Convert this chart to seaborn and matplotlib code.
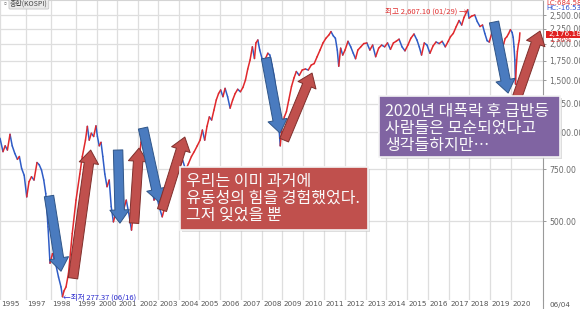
import numpy as np
import pandas as pd
import matplotlib
matplotlib.use("Agg")
import matplotlib.pyplot as plt
import seaborn as sns
from matplotlib.patches import Rectangle
from matplotlib.lines import Line2D
from matplotlib import transforms

# ---------------- data ----------------
years = [1995.00, 1995.23, 1995.40, 1995.57, 1995.77, 1995.94, 1996.14, 1996.34, 1996.49, 1996.66,
         1996.86, 1997.03, 1997.12, 1997.22, 1997.32, 1997.44, 1997.53, 1997.62, 1997.71, 1997.79,
         1997.88, 1997.96, 1998.06, 1998.18, 1998.30, 1998.40, 1998.46, 1998.52, 1998.60, 1998.70,
         1998.85, 1999.00, 1999.18, 1999.30, 1999.45, 1999.54, 1999.63, 1999.73, 1999.84, 1999.95,
         2000.02, 2000.11, 2000.20, 2000.29, 2000.39, 2000.50, 2000.61, 2000.71, 2000.82, 2000.93,
         2001.04, 2001.19, 2001.31, 2001.44, 2001.56, 2001.69, 2001.81, 2001.93, 2002.05, 2002.15,
         2002.24, 2002.37, 2002.47, 2002.58, 2002.69, 2002.80, 2002.91, 2003.05, 2003.20, 2003.33,
         2003.46, 2003.60, 2003.75, 2003.89, 2004.04, 2004.18, 2004.33, 2004.47, 2004.62, 2004.76,
         2004.91, 2005.05, 2005.16, 2005.27, 2005.38, 2005.49, 2005.60, 2005.71, 2005.82, 2005.93,
         2006.03, 2006.14, 2006.24, 2006.36, 2006.48, 2006.60, 2006.72, 2006.84, 2006.97, 2007.09,
         2007.21, 2007.32, 2007.43, 2007.54, 2007.64, 2007.71, 2007.80, 2007.89, 2008.00, 2008.14,
         2008.29, 2008.39, 2008.50, 2008.61, 2008.71, 2008.82, 2008.91, 2009.00, 2009.11, 2009.21,
         2009.32, 2009.45, 2009.57, 2009.68, 2009.82, 2009.96, 2010.11, 2010.25, 2010.39, 2010.53,
         2010.67, 2010.81, 2010.95, 2011.09, 2011.23, 2011.33, 2011.44, 2011.54, 2011.63, 2011.70,
         2011.79, 2011.89, 2012.00, 2012.14, 2012.27, 2012.39, 2012.50, 2012.61, 2012.75, 2012.89,
         2013.04, 2013.19, 2013.33, 2013.48, 2013.63, 2013.78, 2013.93, 2014.07, 2014.21, 2014.35,
         2014.48, 2014.62, 2014.76, 2014.90, 2015.04, 2015.18, 2015.33, 2015.47, 2015.58, 2015.69,
         2015.82, 2015.95, 2016.09, 2016.24, 2016.38, 2016.53, 2016.67, 2016.82, 2016.96, 2017.07,
         2017.21, 2017.36, 2017.50, 2017.63, 2017.75, 2017.93, 2018.00, 2018.13, 2018.27, 2018.39,
         2018.52, 2018.64, 2018.75, 2018.86, 2018.96, 2019.10, 2019.22, 2019.32, 2019.42, 2019.52,
         2019.58, 2019.65, 2019.72, 2019.80, 2019.88, 2019.97, 2020.05, 2020.10, 2020.14, 2020.18,
         2020.21, 2020.25, 2020.30, 2020.35, 2020.39, 2020.42]
values = [955, 860, 900, 871, 985, 900, 848, 810, 828, 755,
          715, 604, 680, 707, 689, 790, 776, 745, 689, 620,
          478, 360, 388, 360, 323, 299, 277, 290, 299, 333,
          454, 589, 722, 828, 941, 1048, 941, 993, 968, 1052,
          968, 900, 925, 828, 722, 654, 689, 560, 497, 531,
          560, 517, 545, 589, 531, 466, 560, 654, 805, 925,
          993, 925, 828, 722, 654, 589, 620, 560, 517, 560,
          604, 654, 689, 722, 764, 805, 745, 783, 828, 860,
          900, 941, 1018, 941, 1048, 1128, 1101, 1190, 1287, 1354,
          1392, 1321, 1410, 1321, 1208, 1287, 1354, 1400, 1373, 1420,
          1504, 1640, 1759, 1950, 1780, 2010, 2057, 1902, 1780, 1759,
          1855, 1829, 1691, 1547, 1354, 1101, 900, 1048, 1128, 1176,
          1287, 1430, 1530, 1608, 1560, 1627, 1640, 1627, 1691, 1711,
          1805, 1902, 2010, 2085, 2139, 2196, 2125, 2085, 1902, 1676,
          1930, 1829, 1902, 2036, 1950, 1855, 1777, 1902, 1950, 2000,
          2010, 1902, 1977, 1805, 1930, 1977, 1950, 2010, 1912, 2010,
          2036, 2070, 1950, 1890, 1977, 2085, 2155, 2057, 1950, 1829,
          2010, 1977, 1855, 1965, 2025, 2000, 2036, 1950, 2036, 2110,
          2165, 2285, 2395, 2312, 2455, 2607, 2440, 2480, 2500, 2375,
          2285, 2312, 2165, 2045, 2025, 2190, 2240, 2150, 2080, 2030,
          1930, 2000, 2080, 2110, 2160, 2230, 2180, 2100, 1950, 1760,
          1457, 1680, 1880, 1990, 2050, 2176]

x_tick_years = [1995] + list(range(1997, 2021))
x_tick_labels = [str(y) for y in x_tick_years]
y_ticks = [500, 750, 1000, 1250, 1500, 1750, 2000, 2250, 2500]
y_tick_labels = [f"{v:,.2f}" for v in y_ticks]

peak_point = (2017.93, 2607)
low_point = (1998.46, 277)
peak_label = "최고 2,607.10 (01/29) →"
low_label = "←최저 277.37 (06/16)"

# annotation arrows: (tail year, tail value, tip year, tip value, kind)
arrows = [
    (1997.92, 608, 1998.40, 338, "down"),
    (1998.88, 320, 1999.70, 871, "up"),
    (2001.05, 871, 2001.14, 492, "down"),
    (2001.81, 492, 2002.05, 884, "up"),
    (2002.25, 1034, 2003.05, 580, "down"),
    (2003.19, 545, 2004.29, 964, "up"),
    (2008.20, 1787, 2008.90, 994, "down"),
    (2009.10, 941, 2010.43, 1589, "up"),
    (2019.19, 2367, 2019.86, 1359, "down"),
    (2020.29, 1317, 2021.38, 2206, "up"),
]

red_box_lines = ["우리는 이미 과거에", "유동성의 힘을 경험했었다.", "그저 잊었을 뿐"]
purple_box_lines = ["2020년 대폭락 후 급반등", "사람들은 모순되었다고", "생각들하지만…"]

# ---------------- axis calibration (irregular year spacing) ----------------
axis_years = [1990, 1995, 1997, 1998, 1999, 2000, 2001, 2002, 2003, 2004, 2005, 2006, 2007,
              2008, 2009, 2010, 2011, 2012, 2013, 2014, 2015, 2016, 2017, 2018, 2019, 2020, 2030]
axis_px = [-65, 0, 26, 51, 76, 97, 117, 138, 158, 179, 199, 220, 241,
           262, 282, 303, 324, 345, 366, 386, 407, 428, 449, 469, 490, 511, 721]


def fwd(x):
    return np.interp(x, axis_years, axis_px)


def inv(p):
    return np.interp(p, axis_px, axis_years)


# ---------------- figure ----------------
sns.set_theme(style="white")
plt.rcParams["font.family"] = ["Noto Sans CJK KR", "DejaVu Sans"]

W, H = 580, 309
fig = plt.figure(figsize=(W / 100, H / 100), dpi=100)
fig.patch.set_facecolor("white")


def fx(p):
    return p / W


def fy(p):
    return 1 - p / H


ax = fig.add_axes([0, 9 / H, 543 / W, 300 / H])
ax.set_facecolor("white")
ax.set_xscale("function", functions=(fwd, inv))
ax.set_yscale("log")

UP, DOWN = "#E0282C", "#2F5CC6"
rows = []
for i in range(len(years) - 1):
    d = "up" if values[i + 1] >= values[i] else "down"
    rows.append((years[i], values[i], i, d))
    rows.append((years[i + 1], values[i + 1], i, d))
df = pd.DataFrame(rows, columns=["year", "value", "seg", "dir"])
sns.lineplot(data=df, x="year", y="value", hue="dir", units="seg", estimator=None,
             palette={"up": UP, "down": DOWN}, legend=False, sort=False,
             linewidth=1.1, ax=ax, zorder=2)

ax.set_xlabel("")
ax.set_ylabel("")
ax.set_xlim(1995.0, 2021.52)
ax.set_ylim(270, 2811)

# grid / ticks
ax.set_xticks(x_tick_years)
ax.set_xticklabels([])
ax.xaxis.set_minor_locator(matplotlib.ticker.NullLocator())
ax.yaxis.tick_right()
ax.set_yticks(y_ticks)
ax.set_yticklabels(y_tick_labels, family="DejaVu Sans")
ax.yaxis.set_minor_locator(matplotlib.ticker.NullLocator())
ax.yaxis.set_minor_formatter(matplotlib.ticker.NullFormatter())
ax.tick_params(axis="y", which="major", direction="out", length=2.5, width=0.6,
               color="#8a8a8a", pad=2.2, labelsize=5.6, labelcolor="#6a6a6a")
ax.tick_params(axis="x", which="major", direction="out", length=6.6, width=0.8,
               color="#d2d2d2", pad=0, labelsize=5)
ax.grid(True, axis="both", which="major", color="#dedede", linewidth=0.9)
ax.set_axisbelow(True)
for s in ["left", "bottom"]:
    ax.spines[s].set_visible(False)
ax.spines["right"].set_color("#9a9a9a")
ax.spines["right"].set_linewidth(0.8)
ax.spines["top"].set_color("#d4d4d4")
ax.spines["top"].set_linewidth(0.8)

# x labels beside the separators
trans = transforms.blended_transform_factory(ax.transData, ax.transAxes) + \
    transforms.ScaledTranslation(1.5 / 100, -1.5 / 100, fig.dpi_scale_trans)
for yv, lab in zip(x_tick_years, x_tick_labels):
    ax.text(yv, 0, lab, transform=trans, ha="left", va="top", fontsize=5.2,
            color="#555555", family="DejaVu Sans", clip_on=False)
fig.add_artist(Line2D([fx(543), fx(543)], [0, fy(300)], transform=fig.transFigure,
                      color="#9a9a9a", lw=0.8))
fig.text(fx(549), fy(305), "06/04", fontsize=5.2, color="#555555", va="center",
         ha="left", family="DejaVu Sans")

# arrows
for x0, y0, x1, y1, kind in arrows:
    fc, ec = ("#4A7BBF", "#2F5588") if kind == "down" else ("#C0504D", "#7F2F2C")
    ax.annotate("", xy=(x1, y1), xytext=(x0, y0), xycoords="data", textcoords="data",
                annotation_clip=False, zorder=4,
                arrowprops=dict(arrowstyle="simple,head_length=0.95,head_width=1.4,tail_width=0.68",
                                fc=fc, ec=ec, lw=0.7, mutation_scale=10,
                                shrinkA=0, shrinkB=0))

# high / low labels
ax.annotate(peak_label, xy=peak_point, xytext=(-1, -1.5), textcoords="offset points",
            ha="right", va="center", fontsize=5.5, color="#E03030", zorder=5)
ax.annotate(low_label, xy=low_point, xytext=(0.5, -0.5), textcoords="offset points",
            ha="left", va="center", fontsize=5.5, color="#2A2ACF", zorder=5)

# header
fig.text(fx(2), fy(4), "▫", fontsize=5, color="#777777", va="center", ha="left")
fig.text(fx(10), fy(4), "종합(KOSPI)", fontsize=5, color="#444444", va="center", ha="left",
         bbox=dict(boxstyle="round,pad=0.15", fc="#e9e9e9", ec="#bdbdbd", lw=0.5))

# right-side info
fig.text(fx(546), fy(3), "LC:684.58", fontsize=5, color="#E03030", va="center", ha="left",
         family="DejaVu Sans")
fig.text(fx(546), fy(8), "HC:-16.53", fontsize=5, color="#3050D0", va="center", ha="left",
         family="DejaVu Sans")
fig.add_artist(Rectangle((fx(546), fy(37.5)), 34 / W, 6.5 / H, transform=fig.transFigure,
                         fc="#E02020", ec="none", zorder=3))
fig.text(fx(548), fy(34.2), "2,176.18", fontsize=5.3, color="white", va="center", ha="left",
         family="DejaVu Sans", zorder=4)
fig.text(fx(549), fy(40), "1.36%", fontsize=5, color="#E03030", va="center", ha="left",
         family="DejaVu Sans", zorder=4)

# text boxes
def text_box(x0, y0, x1, y1, color, lines, tx, ty0, dy):
    fig.add_artist(Rectangle((fx(x0 + 2), fy(y1 + 2)), (x1 - x0) / W, (y1 - y0) / H,
                             transform=fig.transFigure, fc="#c8c8c8", ec="none",
                             alpha=0.6, zorder=5))
    fig.add_artist(Rectangle((fx(x0), fy(y1)), (x1 - x0) / W, (y1 - y0) / H,
                             transform=fig.transFigure, fc=color, ec="#f4f4f4",
                             lw=1.2, zorder=6))
    for k, line in enumerate(lines):
        fig.text(fx(tx), fy(ty0 + k * dy), line, fontsize=11.5, color="#FAFAFA",
                 va="center", ha="left", zorder=7)


text_box(180, 167, 368, 230, "#C0504D", red_box_lines, 186, 181.5, 17)
text_box(379, 96, 560, 157, "#8064A2", purple_box_lines, 385, 111.5, 17)

fig.savefig("out.png", dpi=100)
